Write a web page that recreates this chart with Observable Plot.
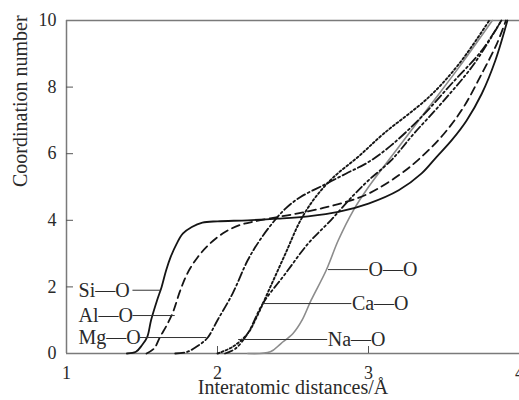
<!DOCTYPE html>
<html>
<head>
<meta charset="utf-8">
<script src="https://cdn.jsdelivr.net/npm/d3@7"></script>
<script src="https://cdn.jsdelivr.net/npm/@observablehq/plot@0.6"></script>
<style>
  body { margin: 0; background: #fff; }
</style>
</head>
<body>
<div id="chart"></div>
<script>
// Axis ticks
const xTicks = [1, 2, 3, 4];
const yTicks = [0, 2, 4, 6, 8, 10];

// Cumulative coordination number vs. interatomic distance, [distance Å, CN]
const siO = [[1.40,0],[1.46,0.05],[1.50,0.25],[1.535,0.5],[1.56,1.0],[1.60,1.6],[1.63,2.0],[1.66,2.5],[1.69,2.9],[1.73,3.3],[1.77,3.6],[1.83,3.8],[1.90,3.93],[2.0,3.97],[2.2,4.0],[2.4,4.05],[2.6,4.12],[2.8,4.25],[3.0,4.5],[3.2,4.9],[3.35,5.4],[3.45,5.9],[3.55,6.4],[3.65,7.0],[3.75,7.8],[3.84,8.8],[3.92,10]];
const alO = [[1.53,0],[1.58,0.15],[1.62,0.5],[1.67,0.9],[1.71,1.3],[1.75,1.85],[1.80,2.4],[1.87,2.9],[1.95,3.3],[2.05,3.65],[2.15,3.86],[2.25,3.97],[2.4,4.1],[2.55,4.22],[2.7,4.37],[2.85,4.55],[3.0,4.8],[3.2,5.35],[3.35,5.9],[3.5,6.6],[3.63,7.4],[3.75,8.4],[3.85,9.3],[3.91,10]];
const mgO = [[1.72,0],[1.80,0.05],[1.86,0.2],[1.93,0.45],[2.0,1.0],[2.1,1.8],[2.2,2.8],[2.28,3.4],[2.37,3.95],[2.45,4.35],[2.55,4.7],[2.7,5.05],[2.85,5.4],[3.0,5.75],[3.15,6.25],[3.35,7.1],[3.55,8.1],[3.75,9.1],[3.88,10]];
const caO = [[2.05,0],[2.12,0.15],[2.2,0.6],[2.3,1.5],[2.45,2.4],[2.6,3.3],[2.75,4.0],[2.9,4.75],[3.0,5.2],[3.15,5.8],[3.3,6.6],[3.5,7.6],[3.7,8.7],[3.88,10]];
const naO = [[2.0,0],[2.1,0.2],[2.2,0.6],[2.26,1.1],[2.35,2.0],[2.45,3.0],[2.55,4.0],[2.65,4.7],[2.77,5.3],[2.93,5.9],[3.1,6.6],[3.4,7.7],[3.6,8.7],[3.8,10]];
const oO  = [[2.2,0],[2.35,0.05],[2.42,0.3],[2.5,0.6],[2.56,1.0],[2.62,1.6],[2.72,2.5],[2.8,3.4],[2.9,4.3],[3.0,5.0],[3.2,6.2],[3.4,7.4],[3.6,8.6],[3.82,10]];

// Pair labels with leader lines: text, text start x, leader start x, leader end x, y
const labelText   = ["Si—O", "Al—O", "Mg—O", "O—O", "Ca—O", "Na—O"];
const labelStartX = [1.08, 1.08, 1.08, 3.0, 2.89, 2.73];
const leaderFromX = [1.44, 1.44, 1.49, 2.735, 2.30, 2.14];
const leaderToX   = [1.625, 1.72, 1.93, 3.0, 2.89, 2.73];
const labelY      = [1.9, 1.14, 0.48, 2.52, 1.5, 0.42];
const labels = labelText.map((t, i) => ({t, tx: labelStartX[i], x1: leaderFromX[i], x2: leaderToX[i], y: labelY[i]}));

const curve = "catmull-rom";
const line = (pts, opts) => Plot.line(pts, {x: d => d[0], y: d => d[1], curve, strokeWidth: 1.8, ...opts});

const W = 519, H = 400, ml = 66, mt = 20, mb = 47;

const chart = Plot.plot({
  width: W,
  height: H,
  marginLeft: ml,
  marginRight: 0,
  marginTop: mt,
  marginBottom: mb,
  style: {fontFamily: "'Liberation Serif', 'Times New Roman', serif", fontSize: "20px", color: "#2a2a2a", background: "#fff"},
  x: {domain: [1, 4]},
  y: {domain: [0, 10]},
  marks: [
    // frame (left, top, bottom)
    Plot.ruleX([1], {stroke: "#7a7a7a", strokeWidth: 1.5}),
    Plot.ruleY([0, 10], {stroke: "#7a7a7a", strokeWidth: 1.5}),
    // inward tick marks
    Plot.tickX(xTicks.slice(1, 3), {x: d => d, insetTop: H - mt - mb - 7, stroke: "#555"}),
    Plot.tickY(yTicks.slice(1, 5), {y: d => d, insetRight: W - ml - 7, stroke: "#555"}),
    Plot.axisX(xTicks, {tickSize: 0, tickPadding: 13, label: null, fontSize: 18, tickFormat: d3.format("d")}),
    Plot.axisY(yTicks, {tickSize: 0, tickPadding: 10, label: null, fontSize: 18}),
    Plot.text(["Interatomic distances/Å"], {frameAnchor: "bottom", dy: 40}),
    Plot.text(["Coordination number"], {frameAnchor: "left", rotate: -90, dx: -46}),
    // curves
    line(oO,  {stroke: "#8c8c8c", strokeWidth: 1.6}),
    line(siO, {stroke: "#151515"}),
    line(alO, {stroke: "#151515", strokeDasharray: "8,5"}),
    line(mgO, {stroke: "#151515", strokeDasharray: "9,3,2,3"}),
    line(caO, {stroke: "#151515", strokeDasharray: "8,3,2,3,2,3"}),
    line(naO, {stroke: "#151515", strokeDasharray: "2,2.4", strokeWidth: 1.9}),
    // leaders and labels
    Plot.ruleY(labels, {y: "y", x1: "x1", x2: "x2", stroke: "#333", strokeWidth: 1}),
    Plot.text(labels, {x: "tx", y: "y", text: "t", textAnchor: "start", fill: "#2a2a2a"})
  ]
});
document.getElementById("chart").append(chart);
</script>
</body>
</html>
